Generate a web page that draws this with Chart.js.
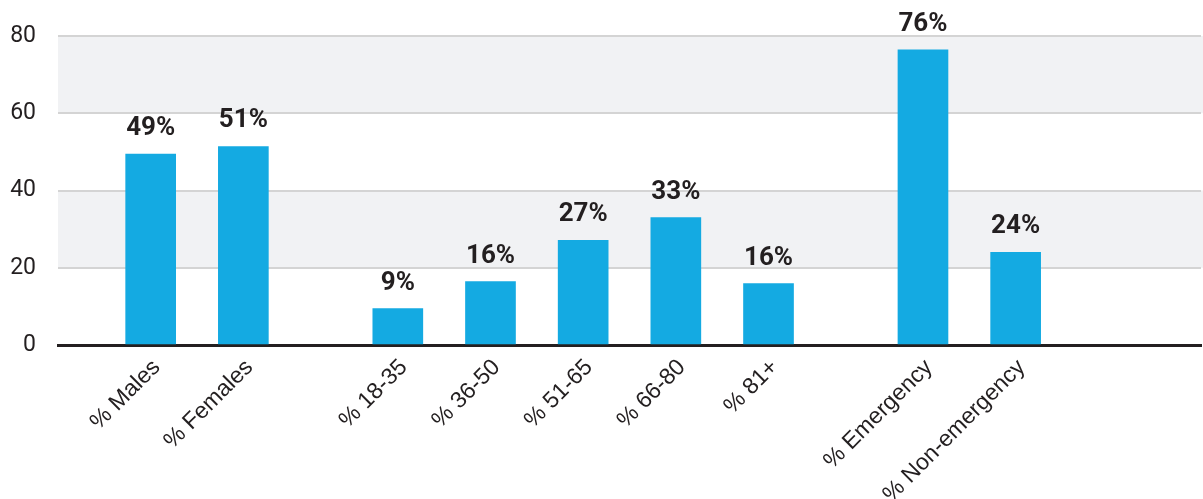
<!DOCTYPE html>
<html>
<head>
<meta charset="utf-8">
<script src="https://cdn.jsdelivr.net/npm/chart.js@4"></script>
<style>
  html, body { margin: 0; padding: 0; background: #fff; }
  #wrap { width: 1203px; height: 499px; }
</style>
</head>
<body>
<div id="wrap"><canvas id="shareChart"></canvas></div>
<script>
const categories = ['% Males', '% Females', '% 18-35', '% 36-50', '% 51-65', '% 66-80', '% 81+', '% Emergency', '% Non-emergency'];
const shares = [49.4, 51.4, 9.4, 16.4, 27.1, 33.0, 15.9, 76.4, 24.0];
const groupSizes = [2, 5, 2];
const yTicks = [0, 20, 40, 60, 80];

// spread the bars over narrow slots so the groups get wider gaps
const slotLabels = [];
const slotValues = [];
let k = 0;
let slot = 3;
groupSizes.forEach((size) => {
    for (let i = 0; i < size; i++) {
        slotLabels[slot] = categories[k];
        slotValues[slot] = shares[k];
        k++;
        slot += 3;
    }
    slot += 2;
});
const totalSlots = 38;
for (let i = 0; i < totalSlots; i++) {
    if (slotLabels[i] === undefined) slotLabels[i] = '';
    if (slotValues[i] === undefined) slotValues[i] = null;
}

const bandPlugin = {
    id: 'bands',
    beforeDraw(chart) {
        const { ctx, chartArea, scales } = chart;
        const y = scales.y;
        ctx.save();
        ctx.fillStyle = '#f1f2f4';
        [[60, 80], [20, 40]].forEach(([lo, hi]) => {
            const top = y.getPixelForValue(hi);
            const bottom = y.getPixelForValue(lo);
            ctx.fillRect(chartArea.left, top, chart.width - chartArea.left, bottom - top);
        });
        ctx.restore();
    }
};

const valueLabels = {
    id: 'valueLabels',
    afterDatasetsDraw(chart) {
        const ctx = chart.ctx;
        const meta = chart.getDatasetMeta(0);
        ctx.save();
        ctx.font = 'bold 26px Roboto';
        ctx.fillStyle = '#231f20';
        ctx.textAlign = 'center';
        ctx.textBaseline = 'alphabetic';
        meta.data.forEach((bar, i) => {
            const v = chart.data.datasets[0].data[i];
            if (v === null) return;
            ctx.fillText(Math.round(v) + '%', bar.x, bar.y - 19);
        });
        ctx.restore();
    }
};

const ctx = document.getElementById('shareChart').getContext('2d');
new Chart(ctx, {
    type: 'bar',
    data: {
        labels: slotLabels,
        datasets: [{
            data: slotValues,
            backgroundColor: '#14aae2',
            barThickness: 50,
            skipNull: true
        }]
    },
    options: {
        responsive: true,
        maintainAspectRatio: false,
        animation: false,
        layout: { padding: { top: 36, left: 10, right: 2, bottom: 0 } },
        plugins: {
            legend: { display: false },
            tooltip: { enabled: false }
        },
        scales: {
            x: {
                offset: false,
                z: 1,
                afterFit: (scale) => {
                    scale.paddingLeft = 0;
                    scale.paddingRight = 0;
                    scale.height = 154;
                },
                grid: { display: false },
                border: { display: true, color: '#231f20', width: 3 },
                ticks: {
                    autoSkip: false,
                    maxRotation: 45,
                    minRotation: 45,
                    padding: 1,
                    labelOffset: 6,
                    color: '#231f20',
                    font: { family: 'Liberation Sans', size: 23 }
                }
            },
            y: {
                min: 0,
                max: 80,
                afterBuildTicks: (scale) => {
                    scale.ticks = yTicks.map(v => ({ value: v }));
                },
                afterFit: (scale) => {
                    scale.width = 48;
                },
                grid: { color: '#d4d4d4', lineWidth: 2, drawTicks: false },
                border: { display: false },
                ticks: {
                    padding: 22,
                    color: '#231f20',
                    font: { family: 'Roboto', size: 23 }
                }
            }
        }
    },
    plugins: [bandPlugin, valueLabels]
});
</script>
</body>
</html>
